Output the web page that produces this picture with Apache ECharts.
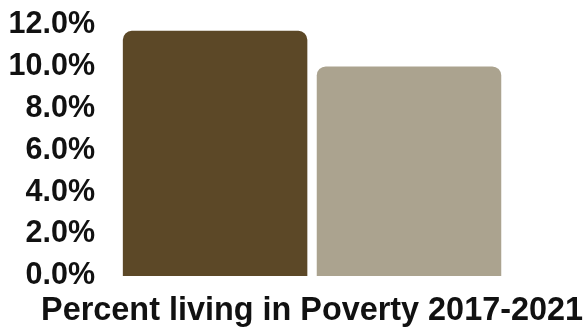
<!DOCTYPE html>
<html>
<head>
<meta charset="utf-8">
<script src="https://cdn.jsdelivr.net/npm/echarts@6/dist/echarts.min.js"></script>
<style>
  html, body { margin: 0; padding: 0; background: #fff; }
  #chart { width: 586px; height: 327px; }
</style>
</head>
<body>
<div id="chart"></div>
<script>
// Poverty rate, 2017-2021 five-year estimate
const categories = ['Percent living in Poverty 2017-2021'];
const seriesA = [11.7];
const seriesB = [10.0];
const yTicks = [0, 2, 4, 6, 8, 10, 12];

const chart = echarts.init(document.getElementById('chart'));
chart.setOption({
  animation: false,
  grid: { left: 113, right: 70, top: 24.5, bottom: 50, containLabel: false },
  xAxis: {
    type: 'category',
    data: categories,
    axisLine: { show: false },
    axisTick: { show: false },
    axisLabel: {
      margin: 21,
      color: '#111',
      fontFamily: 'Liberation Sans, Arial, sans-serif',
      fontWeight: 'bold',
      fontSize: 32.4,
      lineHeight: 28
    }
  },
  yAxis: {
    type: 'value',
    min: yTicks[0],
    max: yTicks[yTicks.length - 1],
    interval: yTicks[1] - yTicks[0],
    splitLine: { show: false },
    axisLine: { show: false },
    axisTick: { show: false },
    axisLabel: {
      margin: 18,
      color: '#111',
      fontFamily: 'Liberation Sans, Arial, sans-serif',
      fontWeight: 'bold',
      fontSize: 30.5,
      formatter: v => v.toFixed(1) + '%'
    }
  },
  series: [
    {
      type: 'bar',
      data: seriesA,
      barWidth: 184.5,
      barGap: '5.1%',
      itemStyle: { color: '#5C4827', borderRadius: [9, 9, 0, 0] }
    },
    {
      type: 'bar',
      data: seriesB,
      barWidth: 184.5,
      itemStyle: { color: '#ABA38F', borderRadius: [9, 9, 0, 0] }
    }
  ]
});
</script>
</body>
</html>
